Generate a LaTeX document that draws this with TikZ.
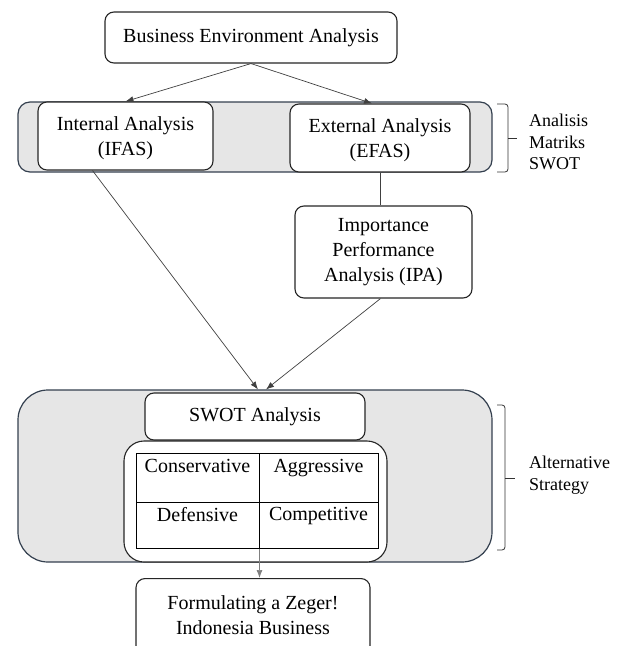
\documentclass[tikz,border=0pt]{standalone}
\usepackage{fontspec}
\setmainfont{Liberation Serif}
\usetikzlibrary{arrows.meta,positioning}

\definecolor{rim}{HTML}{34404F}
\definecolor{shade}{HTML}{E6E6E6}

\tikzset{
  stage/.style={draw=black!85, line width=1.1pt, rounded corners=9pt, fill=white,
    align=center, inner sep=0pt, font=\fontsize{20}{25}\selectfont},
  group/.style={draw=rim, line width=1.2pt, fill=shade, inner sep=0pt},
  flow/.style={draw=black!75, line width=0.7pt, -{Latex[length=8pt,width=6pt]}},
  cell/.style={draw=black, line width=1pt, inner sep=0pt},
  celltext/.style={inner sep=0pt, font=\fontsize{20}{25}\selectfont},
  side/.style={align=left, anchor=west, inner sep=0pt, font=\fontsize{18}{21.5}\selectfont},
  bracket/.style={draw=black!80, line width=0.8pt, rounded corners=3pt},
}

\begin{document}
\begin{tikzpicture}[x=1pt,y=-1pt]
  \useasboundingbox (0,0) rectangle (626,646);
  \clip (0,0) rectangle (626,646);

  % shaded groups
  \node[group, rounded corners=12pt, minimum width=474pt, minimum height=70pt] (grp1) at (255,137) {};
  \node[group, rounded corners=30pt, minimum width=474pt, minimum height=172pt] (grp2) at (255,476) {};

  % stages
  \node[stage, minimum width=292pt, minimum height=51pt] (bea) at (251,37.5) {Business Environment Analysis};
  \node[stage, minimum width=175pt, minimum height=68pt, text depth=0pt] (ifas) at (125.5,136) {Internal Analysis\\(IFAS)};
  \node[stage, minimum width=180pt, minimum height=68pt, text depth=0pt] (efas) at (380,138) {External Analysis\\(EFAS)};
  \node[stage, minimum width=177pt, minimum height=92pt] (ipa) at (383.5,252) {Importance\\Performance\\Analysis (IPA)};
  \node[stage, minimum width=220pt, minimum height=47pt] (swot) at (255,416.5) {SWOT Analysis};
  \node[stage, rounded corners=20pt, minimum width=263pt, minimum height=121pt] (quad) at (255.5,501.5) {};
  \node[stage, anchor=north, minimum width=234pt, inner ysep=17pt, text depth=40pt] (form) at (253,578)
    {Formulating a Zeger!\\Indonesia Business};

  % strategy matrix
  \node[cell, minimum width=123pt, minimum height=49pt] (cons) at (197.5,477.5) {};
  \node[cell, minimum width=119pt, minimum height=49pt] (aggr) at (318.5,477.5) {};
  \node[cell, minimum width=123pt, minimum height=46pt] (defn) at (197.5,525) {};
  \node[cell, minimum width=119pt, minimum height=46pt] (comp) at (318.5,525) {};
  \node[celltext, below=7pt of cons.north] (tcons) {Conservative};
  \node[celltext, below=7pt of aggr.north] (taggr) {Aggressive};
  \node[celltext, below=6pt of defn.north] (tdefn) {Defensive};
  \node[celltext, below=6pt of comp.north] (tcomp) {Competitive};

  % connectors
  \draw[flow] (bea.south) -- (ifas.north);
  \draw[flow] (bea.south) -- ([xshift=-8pt]efas.north);
  \draw[draw=black!75, line width=0.8pt] (efas.south) -- (efas.south |- ipa.north);
  \draw[flow] ([xshift=-33pt]ifas.south) -- ([xshift=3pt,yshift=3pt]swot.north);
  \draw[flow] ([xshift=-3pt]ipa.south) -- ([xshift=11pt,yshift=3pt]swot.north);
  \draw[flow, draw=black!50] (defn.south east) -- (defn.south east |- form.north);

  % side brackets
  \draw[bracket] (497,104) -- (508,104) -- (508,172) -- (497,172);
  \draw[bracket] (508,138) -- (517,138);
  \node[side] (lblswot) at (529,142) {Analisis\\Matriks\\SWOT};
  \draw[bracket] (497,405) -- (505,405) -- (505,550) -- (497,550);
  \draw[bracket] (505,478) -- (515,478);
  \node[side] (lblalt) at (529,475) {Alternative\\Strategy};
\end{tikzpicture}
\end{document}
